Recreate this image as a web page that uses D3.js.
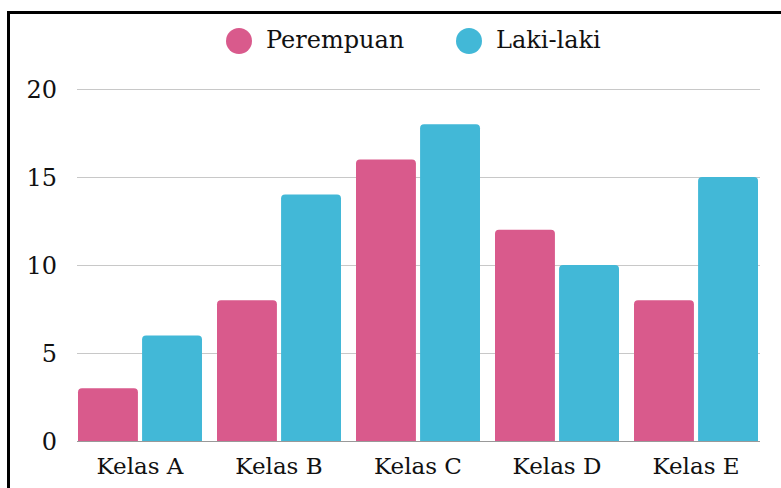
<!DOCTYPE html>
<html>
<head>
<meta charset="utf-8">
<script src="https://cdn.jsdelivr.net/npm/d3@7"></script>
<style>
  html, body { margin: 0; padding: 0; background: #fff; overflow: hidden; }
  text { font-family: "DejaVu Serif", "Liberation Serif", serif; fill: #111; }
</style>
</head>
<body>
<div id="canvas"></div>
<script>
// chart data
const categories = ["Kelas A", "Kelas B", "Kelas C", "Kelas D", "Kelas E"];
const seriesNames = ["Perempuan", "Laki-laki"];
const perempuan = [3, 8, 16, 12, 8];
const lakiLaki = [6, 14, 18, 10, 15];
const yTicks = [0, 5, 10, 15, 20];
const colors = ["#d95a8c", "#42b8d7"];

const width = 781, height = 488;
const values = [perempuan, lakiLaki];

const svg = d3.select("#canvas")
  .append("svg")
  .attr("width", width)
  .attr("height", height);

// outer frame (runs off the right and bottom edge)
svg.append("rect")
  .attr("x", 8.5).attr("y", 12.5)
  .attr("width", 800).attr("height", 500)
  .attr("fill", "none")
  .attr("stroke", "#000")
  .attr("stroke-width", 3);

const x0 = d3.scaleBand()
  .domain(categories)
  .range([78, 758])
  .paddingInner(0.108)
  .paddingOuter(0);

const x1 = d3.scaleBand()
  .domain(seriesNames)
  .range([0, x0.bandwidth()])
  .paddingInner(0.065);

const y = d3.scaleLinear()
  .domain([0, 20])
  .range([441, 89]);

// gridlines
svg.append("g")
  .selectAll("line")
  .data(yTicks.filter(d => d > 0))
  .enter()
  .append("line")
  .attr("x1", 77).attr("x2", 760)
  .attr("y1", d => y(d) + 0.5).attr("y2", d => y(d) + 0.5)
  .attr("stroke", "#c8c8c8")
  .attr("stroke-width", 1);

// y labels
svg.append("g")
  .selectAll("text")
  .data(yTicks)
  .enter()
  .append("text")
  .attr("x", 57)
  .attr("y", d => y(d))
  .attr("dy", "0.36em")
  .attr("text-anchor", "end")
  .attr("font-size", 24)
  .text(d => d);

// rounded-top bar path
function barPath(x, yTop, w, yBase, r) {
  r = Math.min(r, w / 2, yBase - yTop);
  return "M" + x + "," + yBase +
    "V" + (yTop + r) +
    "Q" + x + "," + yTop + " " + (x + r) + "," + yTop +
    "H" + (x + w - r) +
    "Q" + (x + w) + "," + yTop + " " + (x + w) + "," + (yTop + r) +
    "V" + yBase + "Z";
}

const groups = svg.append("g")
  .selectAll("g")
  .data(categories)
  .enter()
  .append("g")
  .attr("transform", d => "translate(" + x0(d) + ",0)");

groups.selectAll("path")
  .data((d, i) => seriesNames.map((s, j) => ({ series: s, value: values[j][i], idx: j })))
  .enter()
  .append("path")
  .attr("fill", d => colors[d.idx])
  .attr("d", d => barPath(x1(d.series), y(d.value), x1.bandwidth(), y(0), 4));

// baseline
svg.append("line")
  .attr("x1", 77).attr("x2", 760)
  .attr("y1", y(0) + 0.5).attr("y2", y(0) + 0.5)
  .attr("stroke", "#999")
  .attr("stroke-width", 1);

// x labels
svg.append("g")
  .selectAll("text")
  .data(categories)
  .enter()
  .append("text")
  .attr("x", d => x0(d) + x0.bandwidth() / 2)
  .attr("y", 474)
  .attr("text-anchor", "middle")
  .attr("font-size", 23)
  .text(d => d);

// legend
const legendX = [239, 469];
const legend = svg.append("g")
  .selectAll("g")
  .data(seriesNames)
  .enter()
  .append("g")
  .attr("transform", (d, i) => "translate(" + legendX[i] + ",41)");

legend.append("circle")
  .attr("r", 13)
  .attr("fill", (d, i) => colors[i]);

legend.append("text")
  .attr("x", 27)
  .attr("y", 7)
  .attr("font-size", 24)
  .text(d => d);
</script>
</body>
</html>
